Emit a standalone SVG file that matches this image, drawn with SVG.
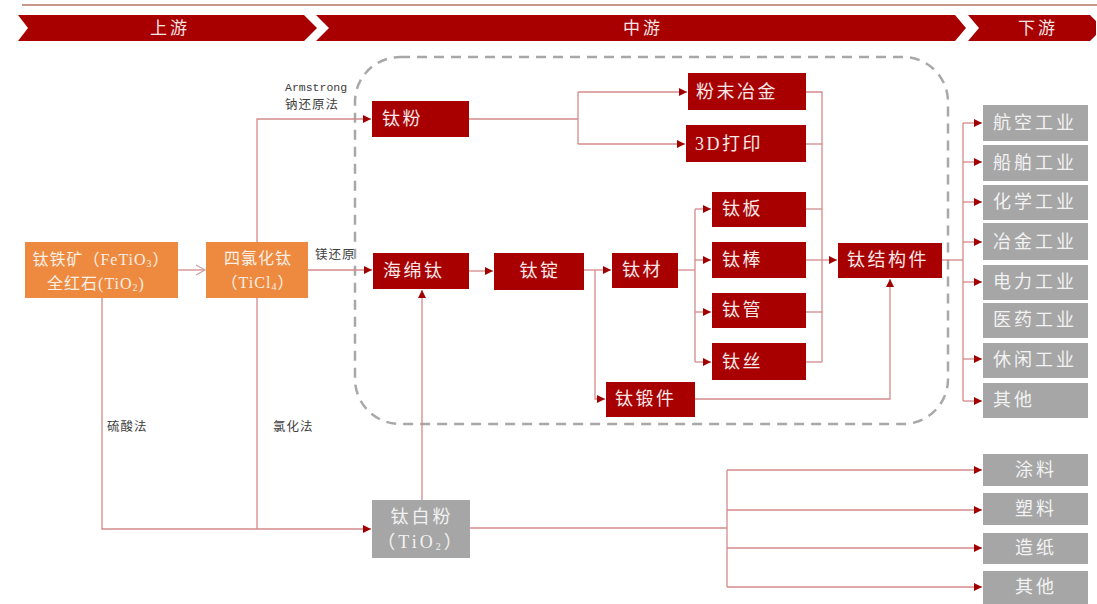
<svg xmlns="http://www.w3.org/2000/svg" width="1097" height="604" viewBox="0 0 1097 604">
<defs>
<marker id="ah" markerUnits="userSpaceOnUse" markerWidth="9" markerHeight="8" refX="8" refY="4" orient="auto">
<path d="M0,0 L8,4 L0,8 Z" fill="#A00000"/>
</marker>
<marker id="oa" markerUnits="userSpaceOnUse" markerWidth="12" markerHeight="12" refX="10" refY="6" orient="auto">
<path d="M1,1 L10,6 L1,11" fill="none" stroke="#C9A0A0" stroke-width="1.2"/>
</marker>
<style>
.ban{fill:#A80000}
.bt{font-family:"Liberation Serif","Noto Sans CJK SC",serif;font-size:17px;fill:#F6E6E6;letter-spacing:3px;text-anchor:middle;dominant-baseline:central}
.red{fill:#A80000}
.org{fill:#EE8A3F}
.gry{fill:#A6A6A6}
.t{font-family:"Liberation Serif","Noto Sans CJK SC",serif;font-size:18px;fill:#F8E8E8;letter-spacing:2.5px;dominant-baseline:central}
.to{font-family:"Liberation Serif","Noto Sans CJK SC",serif;font-size:16px;fill:#FBEFE6;letter-spacing:1px;dominant-baseline:central;text-anchor:middle}
.tg{font-family:"Liberation Serif","Noto Sans CJK SC",serif;font-size:18px;fill:#F2F2F2;letter-spacing:3px;dominant-baseline:central}
.tc{text-anchor:middle}
.sub{font-size:10px}
.lbl{font-family:"Liberation Serif","Noto Sans CJK SC",serif;font-size:12.5px;fill:#404040;letter-spacing:1px}
.mono{font-family:"Liberation Mono",monospace;font-size:11.5px;fill:#404040}
.c{fill:none;stroke:#D48A8A;stroke-width:1.3}
</style>
</defs>
<rect width="1097" height="604" fill="#FFFFFF"/>
<line x1="22" y1="5" x2="1097" y2="5" stroke="#C9968C" stroke-width="2"/>
<g id="banner">
<polygon class="ban" points="18,15 304,15 317,28 304,41 18,41 28,28"/>
<text class="bt" x="170" y="28">上游</text>
<polygon class="ban" points="316,15 955,15 966,28 955,41 316,41 329,28"/>
<text class="bt" x="643" y="28">中游</text>
<polygon class="ban" points="968,15 1090,15 1096,21 1096,35 1090,41 968,41 979,28"/>
<text class="bt" x="1038" y="28">下游</text>
</g>
<g id="midstream-frame">
<rect x="355" y="57" width="593" height="367" rx="45" ry="45" fill="none" stroke="#A8A8A8" stroke-width="2.5" stroke-dasharray="10 7"/>
</g>
<g id="connectors">
<path class="c" d="M178,270 H205" marker-end="url(#oa)"/>
<path class="c" d="M257,242 V119 H371" marker-end="url(#ah)"/>
<path class="c" d="M308,270 H372" marker-end="url(#ah)"/>
<path class="c" d="M102,298 V529 H371" marker-end="url(#ah)"/>
<path class="c" d="M257,298 V529"/>
<path class="c" d="M422,500 V290" marker-end="url(#ah)"/>
<path class="c" d="M469,271 H493" marker-end="url(#ah)"/>
<path class="c" d="M584,270 H611" marker-end="url(#ah)"/>
<path class="c" d="M595,270 V399 H605" marker-end="url(#ah)"/>
<path class="c" d="M469,119 H578"/>
<path class="c" d="M578,92 V144"/>
<path class="c" d="M578,92 H687" marker-end="url(#ah)"/>
<path class="c" d="M578,144 H685" marker-end="url(#ah)"/>
<path class="c" d="M806,92 H822 V362"/>
<path class="c" d="M806,144 H822"/>
<path class="c" d="M806,209 H822"/>
<path class="c" d="M806,260 H822"/>
<path class="c" d="M806,312 H822"/>
<path class="c" d="M806,362 H822"/>
<path class="c" d="M822,260 H837" marker-end="url(#ah)"/>
<path class="c" d="M678,270 H695"/>
<path class="c" d="M695,209 V362"/>
<path class="c" d="M695,209 H711" marker-end="url(#ah)"/>
<path class="c" d="M695,260 H711" marker-end="url(#ah)"/>
<path class="c" d="M695,312 H711" marker-end="url(#ah)"/>
<path class="c" d="M695,362 H711" marker-end="url(#ah)"/>
<path class="c" d="M695,399 H890 V279" marker-end="url(#ah)"/>
<path class="c" d="M942,260 H963"/>
<path class="c" d="M963,123 V401"/>
<path class="c" d="M963,123 H982" marker-end="url(#ah)"/>
<path class="c" d="M963,162 H982" marker-end="url(#ah)"/>
<path class="c" d="M963,202 H982" marker-end="url(#ah)"/>
<path class="c" d="M963,242 H982" marker-end="url(#ah)"/>
<path class="c" d="M963,282 H982" marker-end="url(#ah)"/>
<path class="c" d="M963,359 H982" marker-end="url(#ah)"/>
<path class="c" d="M963,401 H982" marker-end="url(#ah)"/>
<path class="c" d="M470,528 H727"/>
<path class="c" d="M727,470 V587"/>
<path class="c" d="M727,470 H982" marker-end="url(#ah)"/>
<path class="c" d="M727,510 H982" marker-end="url(#ah)"/>
<path class="c" d="M727,548 H982" marker-end="url(#ah)"/>
<path class="c" d="M727,587 H982" marker-end="url(#ah)"/>
</g>
<g id="labels">
<text class="mono" x="285" y="91">Armstrong</text>
<text class="lbl" x="285" y="109">钠还原法</text>
<text class="lbl" x="315" y="259">镁还原</text>
<text class="lbl" x="107" y="431">硫酸法</text>
<text class="lbl" x="273" y="431">氯化法</text>
</g>
<g id="node-ore">
<rect class="org" x="25" y="242" width="153" height="56"/>
<text class="to" x="101" y="259">钛铁矿（FeTiO<tspan class="sub" dy="4">3</tspan><tspan dy="-4">）</tspan></text>
<text class="to" x="96" y="283">全红石(TiO<tspan class="sub" dy="4">2</tspan><tspan dy="-4">)</tspan></text>
</g>
<g id="node-ticl4">
<rect class="org" x="206" y="242" width="102" height="56"/>
<text class="to" x="258" y="258" font-size="17" letter-spacing="3">四氯化钛</text>
<text class="to" x="258" y="282" font-size="17" letter-spacing="2">（TiCl<tspan class="sub" dy="4">4</tspan><tspan dy="-4">）</tspan></text>
</g>
<g id="node-tifen"><rect class="red" x="372" y="101" width="97" height="36"/><text class="t" x="382" y="119">钛粉</text></g>
<g id="node-fmyj"><rect class="red" x="688" y="73" width="118" height="37"/><text class="t" x="696" y="92">粉末冶金</text></g>
<g id="node-3d"><rect class="red" x="686" y="125" width="120" height="37"/><text class="t" x="695" y="144">3D打印</text></g>
<g id="node-hmt"><rect class="red" x="373" y="253" width="96" height="36"/><text class="t" x="383" y="271">海绵钛</text></g>
<g id="node-td"><rect class="red" x="494" y="253" width="90" height="37"/><text class="t tc" x="540" y="271">钛锭</text></g>
<g id="node-tc"><rect class="red" x="612" y="253" width="66" height="35"/><text class="t" x="622" y="270">钛材</text></g>
<g id="node-tb"><rect class="red" x="712" y="192" width="94" height="35"/><text class="t" x="722" y="209">钛板</text></g>
<g id="node-tbang"><rect class="red" x="712" y="242" width="94" height="36"/><text class="t" x="722" y="260">钛棒</text></g>
<g id="node-tg"><rect class="red" x="712" y="293" width="94" height="35"/><text class="t" x="722" y="310">钛管</text></g>
<g id="node-ts"><rect class="red" x="712" y="343" width="94" height="37"/><text class="t" x="722" y="362">钛丝</text></g>
<g id="node-tdj"><rect class="red" x="606" y="382" width="89" height="35"/><text class="t" x="615" y="399">钛锻件</text></g>
<g id="node-tjgj"><rect class="red" x="838" y="243" width="104" height="35"/><text class="t" x="847" y="260">钛结构件</text></g>
<g id="node-tbf">
<rect class="gry" x="372" y="500" width="98" height="58"/>
<text class="tg tc" x="422" y="517" font-size="17">钛白粉</text>
<text class="tg tc" x="421" y="542" font-size="17" letter-spacing="2">（TiO<tspan class="sub" dy="4">2</tspan><tspan dy="-4">）</tspan></text>
</g>
<g id="node-hk"><rect class="gry" x="983" y="105" width="105" height="36"/><text class="tg" x="993" y="123">航空工业</text></g>
<g id="node-cb"><rect class="gry" x="983" y="145" width="105" height="36"/><text class="tg" x="993" y="163">船舶工业</text></g>
<g id="node-hx"><rect class="gry" x="983" y="185" width="105" height="35"/><text class="tg" x="993" y="202">化学工业</text></g>
<g id="node-yj"><rect class="gry" x="983" y="223" width="105" height="37"/><text class="tg" x="993" y="242">冶金工业</text></g>
<g id="node-dl"><rect class="gry" x="983" y="265" width="105" height="35"/><text class="tg" x="993" y="282">电力工业</text></g>
<g id="node-yy"><rect class="gry" x="983" y="303" width="105" height="35"/><text class="tg" x="993" y="320">医药工业</text></g>
<g id="node-xx"><rect class="gry" x="983" y="343" width="105" height="35"/><text class="tg" x="993" y="360">休闲工业</text></g>
<g id="node-qt1"><rect class="gry" x="983" y="383" width="105" height="35"/><text class="tg" x="993" y="400">其他</text></g>
<g id="node-tl"><rect class="gry" x="983" y="454" width="105" height="32"/><text class="tg tc" x="1036" y="470" font-size="17">涂料</text></g>
<g id="node-sl"><rect class="gry" x="983" y="493" width="105" height="32"/><text class="tg tc" x="1036" y="509" font-size="17">塑料</text></g>
<g id="node-zz"><rect class="gry" x="983" y="533" width="105" height="31"/><text class="tg tc" x="1036" y="548" font-size="17">造纸</text></g>
<g id="node-qt2"><rect class="gry" x="983" y="571" width="105" height="33"/><text class="tg tc" x="1036" y="587" font-size="17">其他</text></g>
</svg>
